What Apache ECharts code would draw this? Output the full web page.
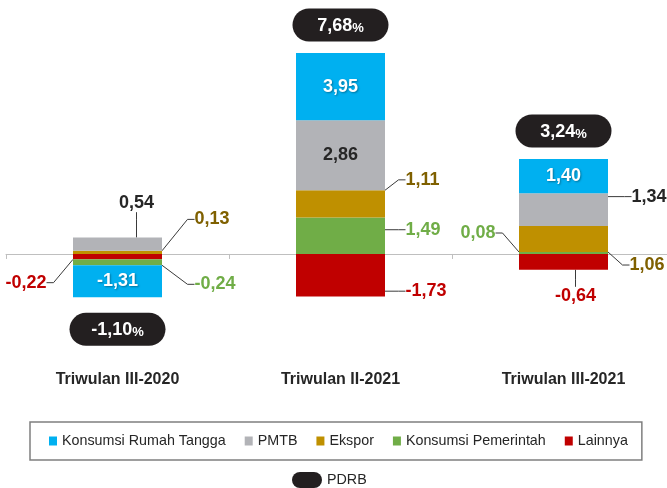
<!DOCTYPE html>
<html><head><meta charset="utf-8">
<script src="https://cdn.jsdelivr.net/npm/echarts@6/dist/echarts.min.js"></script>
<style>html,body{margin:0;padding:0;background:#fff}#c{width:667px;height:488px}</style>
</head><body><div id="c"></div>
<script>
// ---- data ----
const categories = ['Triwulan III-2020', 'Triwulan II-2021', 'Triwulan III-2021'];
const krt     = [-1.31, 3.95, 1.40];   // Konsumsi Rumah Tangga
const pmtb    = [0.54, 2.86, 1.34];    // PMTB
const ekspor  = [0.13, 1.11, 1.06];    // Ekspor
const kp      = [-0.24, 1.49, 0.08];   // Konsumsi Pemerintah
const lainnya = [-0.22, -1.73, -0.64]; // Lainnya
const pdrb    = [-1.10, 7.68, 3.24];   // PDRB
const legendOrder = ['Konsumsi Rumah Tangga', 'PMTB', 'Ekspor', 'Konsumsi Pemerintah', 'Lainnya'];

// ---- style ----
const FONT = "'Liberation Sans',Arial,sans-serif";
const Y_MIN = -2, Y_MAX = 8.2;
const seriesDefs = [
  { name: 'Lainnya', data: lainnya, color: '#C00000', labelColor: '#C00000' },
  { name: 'Konsumsi Pemerintah', data: kp, color: '#70AD47', labelColor: '#70AD47' },
  { name: 'Ekspor', data: ekspor, color: '#BF9000', labelColor: '#7F6000' },
  { name: 'PMTB', data: pmtb, color: '#B2B3B7', labelColor: '#262626' },
  { name: 'Konsumsi Rumah Tangga', data: krt, color: '#00B0F0', labelColor: '#FFFFFF' }
];
// outside label placement (offset from segment centre, px)
const outside = {
  'Lainnya': { 0: { dx: -69, dy: 26, align: 'right' }, 1: { dx: 63, dy: 16, align: 'left' }, 2: { dx: 12, dy: 34, align: 'center' } },
  'Konsumsi Pemerintah': { 0: { dx: 75, dy: 22, align: 'left' }, 1: { dx: 63, dy: -6, align: 'left' }, 2: { dx: -66, dy: -20, align: 'right' } },
  'Ekspor': { 0: { dx: 75, dy: -33, align: 'left' }, 1: { dx: 63, dy: -24, align: 'left' }, 2: { dx: 64, dy: 26, align: 'left' } },
  'PMTB': { 0: { dx: 19, dy: -41, align: 'center' }, 2: { dx: 66, dy: -13, align: 'left' } }
};
const fmt = v => v.toFixed(2).replace('.', ',');

function stackEnd(i, v) {
  let s = 0;
  seriesDefs.forEach(d => { const x = d.data[i]; if ((v >= 0 && x > 0) || (v < 0 && x < 0)) s += x; });
  return Math.max(Y_MIN, Math.min(Y_MAX, s));
}

const barSeries = seriesDefs.map(def => ({
  name: def.name,
  type: 'bar',
  stack: 'total',
  barWidth: 89,
  itemStyle: { color: def.color },
  label: Object.assign({
    show: true, position: 'inside', color: def.labelColor,
    fontFamily: FONT, fontWeight: 'bold', fontSize: 18, padding: [0, 2],
    formatter: p => fmt(p.value)
  }, def.name === 'Konsumsi Rumah Tangga' ? {
    textShadowColor: 'rgba(0,0,0,0.35)', textShadowBlur: 2, textShadowOffsetX: 1, textShadowOffsetY: 1
  } : {}),
  labelLine: { show: false, length2: 7, lineStyle: { color: '#3A3A3A', width: 1 } },
  labelLayout: p => {
    const o = outside[def.name] && outside[def.name][p.dataIndex];
    if (!o) return {};
    const cx = p.rect.x + p.rect.width / 2, cy = p.rect.y + p.rect.height / 2;
    return { x: cx + o.dx, y: cy + o.dy, align: o.align, verticalAlign: 'middle' };
  },
  data: def.data.map((v, i) => {
    const item = { value: v };
    if (outside[def.name] && outside[def.name][i]) {
      item.labelLine = { show: true };
    } else if (def.name === 'Konsumsi Rumah Tangga' && v >= Y_MAX - 3) {
      item.label = { position: 'insideTop', distance: 10 };
    }
    return item;
  })
}));

const pdrbSeries = {
  name: 'PDRB',
  type: 'custom',
  coordinateSystem: 'cartesian2d',
  itemStyle: { color: '#231F20' },
  z: 10,
  data: pdrb.map((v, i) => [i, v, stackEnd(i, v)]),
  renderItem: (params, api) => {
    const v = api.value(1);
    const pt = api.coord([api.value(0), api.value(2)]);
    const cy = v >= 0 ? pt[1] - 28 : pt[1] + 32;
    const w = 96, h = 33;
    return {
      type: 'group',
      children: [
        { type: 'rect', shape: { x: pt[0] - w / 2, y: cy - h / 2, width: w, height: h, r: h / 2 }, style: { fill: '#231F20' } },
        { type: 'text', x: pt[0], y: cy + 1, style: {
            text: '{n|' + fmt(v) + '}{p|%}', align: 'center', verticalAlign: 'middle',
            rich: {
              n: { fontFamily: FONT, fontWeight: 'bold', fontSize: 18, fill: '#FFFFFF', verticalAlign: 'bottom', lineHeight: 18 },
              p: { fontFamily: FONT, fontWeight: 'bold', fontSize: 13, fill: '#FFFFFF', verticalAlign: 'bottom', lineHeight: 16 }
            }
          } }
      ]
    };
  }
};

const chart = echarts.init(document.getElementById('c'), null, { renderer: 'canvas' });
chart.setOption({
  animation: false,
  backgroundColor: '#FFFFFF',
  grid: { left: 6, right: -8, top: 53, bottom: 185, containLabel: false, outerBoundsMode: 'none' },
  xAxis: {
    type: 'category', data: categories,
    axisLine: { show: true, onZero: true, lineStyle: { color: '#BFBFBF', width: 1 } },
    axisTick: { show: true, length: 5, lineStyle: { color: '#BFBFBF' } },
    axisLabel: { interval: 0, margin: 69, fontFamily: FONT, fontSize: 16, fontWeight: 'bold', color: '#262626' },
    splitLine: { show: false }
  },
  yAxis: { type: 'value', min: Y_MIN, max: Y_MAX, show: false, splitLine: { show: false } },
  legend: [
    {
      data: legendOrder, left: 30, top: 422, orient: 'horizontal',
      icon: 'rect', itemWidth: 8, itemHeight: 9, itemGap: 19,
      padding: [12, 14, 12, 19], borderColor: '#7F7F7F', borderWidth: 1.5,
      textStyle: { fontFamily: FONT, fontSize: 14.3, color: '#262626' },
      selectedMode: false
    },
    {
      data: [{ name: 'PDRB', icon: 'path://M8,0L22,0A8,8,0,0,1,22,16L8,16A8,8,0,0,1,8,0Z', itemStyle: { color: '#231F20' } }],
      left: 292, top: 472, itemWidth: 30, itemHeight: 16, padding: 0,
      textStyle: { fontFamily: FONT, fontSize: 14.3, color: '#262626' },
      selectedMode: false
    }
  ],
  series: barSeries.concat([pdrbSeries])
});
</script>
</body></html>
